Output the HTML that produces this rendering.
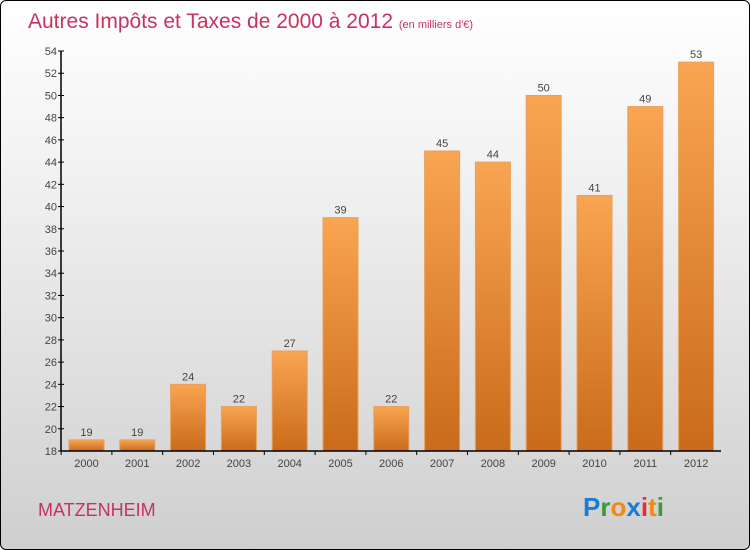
<!DOCTYPE html>
<html><head><meta charset="utf-8"><style>
html,body{margin:0;padding:0;}
body{width:750px;height:550px;overflow:hidden;font-family:"Liberation Sans",sans-serif;}
#frame{position:absolute;left:0;top:0;width:748px;height:548px;border:1px solid #000;border-radius:6px;background:linear-gradient(#ffffff,#f2f2f2 30%,#cfcfcf);overflow:hidden;}
</style></head><body>
<div id="frame">
<svg id="chart" width="750" height="550">
<defs>
<linearGradient id="bg" x1="0" y1="0" x2="0" y2="1"><stop offset="0" stop-color="#f9a552"/><stop offset="1" stop-color="#c96b1a"/></linearGradient>
</defs>
<text x="27" y="27" font-size="21" fill="#c8325e">Autres Impôts et Taxes de 2000 à 2012 <tspan font-size="11">(en milliers d'€)</tspan></text>
<g id="grid"></g>
<g id="bars"></g>
<g id="axes"></g>
<text x="37" y="515" font-size="18" fill="#c8325e">MATZENHEIM</text>
<text x="582" y="515" font-size="26" font-weight="bold"><tspan fill="#1a7ad4">P</tspan><tspan fill="#3a9b3a">r</tspan><tspan fill="#f08a10">o</tspan><tspan fill="#1a7ad4">x</tspan><tspan fill="#e03030">i</tspan><tspan fill="#f08a10">t</tspan><tspan fill="#3a9b3a">i</tspan></text>
</svg>
</div>
<script>
const years=["2000","2001","2002","2003","2004","2005","2006","2007","2008","2009","2010","2011","2012"];
const values=[19,19,24,22,27,39,22,45,44,50,41,49,53];
const yTicks=[18,20,22,24,26,28,30,32,34,36,38,40,42,44,46,48,50,52,54];
const NS="http://www.w3.org/2000/svg";
const yMin=18,yMax=54,plotTop=50,plotBottom=450,x0=60,x1=720;
const y=v=>plotBottom-(v-yMin)/(yMax-yMin)*(plotBottom-plotTop);
const step=50.8,bw=35;
const xc=i=>85.5+i*step;
function mk(t,a,p){const e=document.createElementNS(NS,t);for(const k in a)e.setAttribute(k,a[k]);p.appendChild(e);return e;}
const axes=document.getElementById('axes'),bars=document.getElementById('bars'),grid=document.getElementById('grid');
yTicks.forEach(v=>{
 const t=mk('line',{x1:x0-3,x2:x0+3,y1:y(v),y2:y(v),stroke:'#000'},axes);
 
 
 const tx=mk('text',{x:x0-4,y:y(v)+4,'font-size':11,fill:'#444','text-anchor':'end'},axes);
 tx.textContent=v;
 
 
});
values.forEach((v,i)=>{
 const r=mk('rect',{x:xc(i)-bw/2,y:y(v),width:bw,height:plotBottom-y(v),fill:'url(#bg)',stroke:'#e8a060','stroke-width':1},bars);
 
 
 const lb=mk('text',{x:xc(i),y:y(v)-4,'font-size':11,fill:'#444','text-anchor':'middle'},bars);
 lb.textContent=v;
 
 
 const xl=mk('text',{x:xc(i),y:plotBottom+16,'font-size':11,fill:'#444','text-anchor':'middle'},axes);
 xl.textContent=years[i];
 
 
 const xt=mk('line',{x1:xc(i)-step/2,x2:xc(i)-step/2,y1:plotBottom,y2:plotBottom+4,stroke:'#000'},axes);
 
 
});
const ya=mk('line',{x1:x0,x2:x0,y1:plotTop,y2:plotBottom,stroke:'#000','stroke-width':1.5},axes);


const xa=mk('line',{x1:x0,x2:x1,y1:plotBottom,y2:plotBottom,stroke:'#000','stroke-width':1.5},axes);


</script>
</body></html>
